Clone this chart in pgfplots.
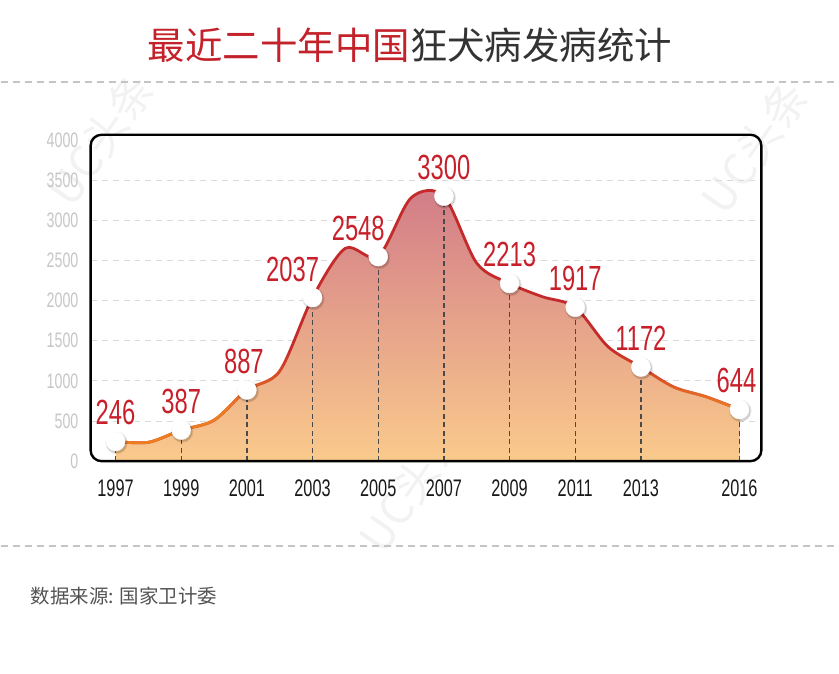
\documentclass[border=0pt]{standalone}
\usepackage{fontspec}
\usepackage{pgfplots}
\usepackage{pgfplotstable}
\pgfplotsset{compat=1.18}
\usetikzlibrary{fadings}
\setmainfont{Liberation Sans}
\newfontfamily\cjk{Noto Sans CJK SC}
\newfontfamily\cond[FakeStretch=0.68]{Liberation Sans}
\definecolor{titlered}{HTML}{C4222B}
\definecolor{titlegray}{HTML}{333333}
\definecolor{labelred}{HTML}{C8202A}
\definecolor{linered}{HTML}{C42A2A}
\definecolor{lineorange}{HTML}{EE7D22}
\definecolor{filltop}{HTML}{D27C88}
\definecolor{fillbot}{HTML}{FACA8C}
\definecolor{rule}{HTML}{C4C4C4}
\definecolor{gridc}{HTML}{DADADA}
\definecolor{ylab}{HTML}{C6C6C6}
\definecolor{comb}{HTML}{4A4A4A}

% orange only on the low part of the curve
\pgfdeclareverticalshading{lowshade}{100bp}{color(0bp)=(pgftransparent!0); color(32bp)=(pgftransparent!0); color(44bp)=(pgftransparent!100); color(100bp)=(pgftransparent!100)}
\pgfdeclarefading{lowfade}{\pgfuseshading{lowshade}}

% cases per year
\pgfplotstableread{
year cases
1997 246
1998 235
1999 387
2000 510
2001 887
2002 1122
2003 2037
2004 2651
2005 2548
2006 3279
2007 3300
2008 2466
2009 2213
2010 2048
2011 1917
2012 1425
2013 1172
2014 924
2015 801
2016 644
}\yearly

% labelled years, dx = label shift
\pgfplotstableread{
year cases dx
1997 246 0
1999 387 0
2001 887 -3
2003 2037 -20
2005 2548 -20
2007 3300 0
2009 2213 0
2011 1917 0
2013 1172 0
2016 644 -3
}\marked

\begin{document}
\begin{tikzpicture}
\path (0pt,0pt) rectangle (839pt,675pt);
% watermarks
\begin{scope}[every node/.style={rotate=55, text=black!5, font=\cjk\fontsize{44}{44}\selectfont}]
  \node at (100pt,535pt) {UC头条};
  \node at (755pt,527pt) {UC头条};
  \node at (412pt,188pt) {UC头条};
\end{scope}
\node[font=\cjk\fontsize{37.5}{38}\selectfont] at (410pt,630pt)
  {\textcolor{titlered}{最近二十年中国}\textcolor{titlegray}{狂犬病发病统计}};
\draw[rule, line width=1.5pt, dash pattern=on 7pt off 5pt] (0pt,593pt) -- (839pt,593pt);
\draw[rule, line width=1.5pt, dash pattern=on 7pt off 5pt] (0pt,128pt) -- (839pt,128pt);
\node[anchor=west, inner sep=0pt, font=\cjk\fontsize{19.5}{20}\selectfont, text=black!68] at (30pt,78pt) {数据来源: 国家卫计委};

\begin{axis}[at={(90pt,213pt)}, anchor=south west, scale only axis,
  width=672pt, height=327pt,
  xmin=1996.24, xmax=2016.67, ymin=0, ymax=4065,
  xtick={1997,1999,2001,2003,2005,2007,2009,2011,2013,2016},
  ytick={0,500,...,4000},
  axis line style={draw=none}, major tick length=0pt,
  /pgf/number format/assume math mode=true,
  /pgf/number format/1000 sep={},
  xticklabel style={anchor=north, inner sep=0pt, yshift=-18pt,
    font=\cond\fontsize{24}{24}\selectfont, text=black!90},
  yticklabel style={anchor=east, inner sep=0pt, xshift=-12pt,
    font=\cond\fontsize{21}{21}\selectfont, text=ylab},
  clip=false]
% grid
\pgfplotsinvokeforeach{500,1000,...,3500}{
  \draw[gridc, line width=1pt, dash pattern=on 6pt off 5pt]
    (axis cs:1996.24,#1) -- (axis cs:2016.67,#1);}
% area
\addplot[smooth, draw=none, top color=filltop, bottom color=fillbot]
  table[x=year, y=cases]{\yearly} \closedcycle;
% drop lines
\addplot[ycomb, comb, line width=1.3pt, dash pattern=on 5pt off 3.5pt]
  table[x=year, y=cases]{\marked};
% curve
\addplot[smooth, linered, line width=2.8pt] table[x=year, y=cases]{\yearly};
\addplot[smooth, lineorange, line width=2.8pt, path fading=lowfade]
  table[x=year, y=cases]{\yearly};
% frame
\draw[black, line width=2.4pt, rounded corners=11pt]
  (rel axis cs:0,0) rectangle (rel axis cs:1,1);
% marker shadows
\addplot[only marks, mark=*, mark size=11pt, mark options={fill=black, draw=none, opacity=0.06, xshift=1pt, yshift=-1.5pt}]
  table[x=year, y=cases]{\marked};
\addplot[only marks, mark=*, mark size=10pt, mark options={fill=black, draw=none, opacity=0.12, xshift=1pt, yshift=-1.5pt}]
  table[x=year, y=cases]{\marked};
% markers and labels
\addplot[only marks, mark=*, mark size=9.5pt, mark options={fill=white, draw=white},
  nodes near coords, point meta=explicit symbolic,
  visualization depends on={\thisrow{dx} \as \dx},
  nodes near coords style={anchor=south, inner sep=0pt, yshift=16pt, xshift=\dx pt,
    font=\cond\fontsize{35}{35}\selectfont, text=labelred}]
  table[x=year, y=cases, meta=cases]{\marked};
\end{axis}
\end{tikzpicture}
\end{document}
